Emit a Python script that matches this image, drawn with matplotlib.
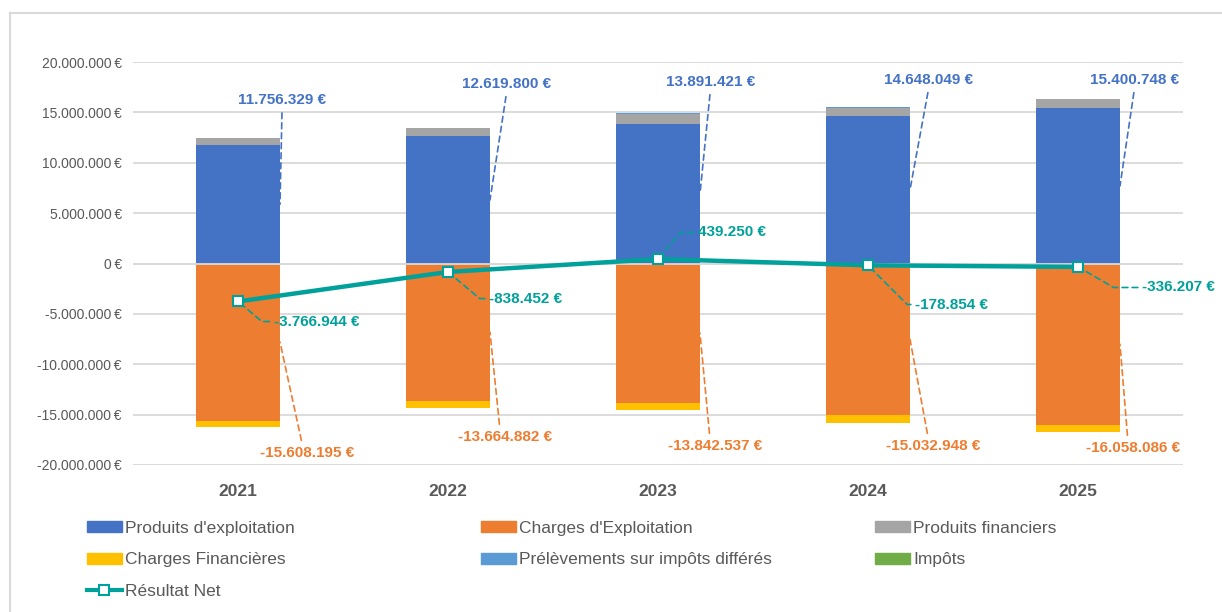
import numpy as np
import matplotlib
matplotlib.use("Agg")
import matplotlib.pyplot as plt
from matplotlib.lines import Line2D
from matplotlib.patches import Patch

# données (en euros)
years = ["2021", "2022", "2023", "2024", "2025"]
produits_expl = [11756329, 12619800, 13891421, 14648049, 15400748]
produits_fin = [690000, 780000, 980000, 810000, 890000]
prelevements = [50000, 50000, 50000, 50000, 50000]
charges_expl = [-15608195, -13664882, -13842537, -15032948, -16058086]
charges_fin = [-630000, -690000, -660000, -760000, -660000]
impots = [-30000, -30000, -30000, -30000, -30000]
resultat_net = [-3766944, -838452, 439250, -178854, -336207]

# position des étiquettes (décalage x en catégories, y en euros)
lbl_prod_dx = [0.21, 0.28, 0.25, 0.29, 0.27]
lbl_prod_y = [16.2e6, 17.8e6, 18.0e6, 18.2e6, 18.2e6]
lbl_chg_dx = [0.33, 0.27, 0.27, 0.31, 0.26]
lbl_chg_y = [-18.8e6, -17.2e6, -18.1e6, -18.1e6, -18.3e6]
lbl_res_dx = [0.17, 0.195, 0.19, 0.224, 0.305]
lbl_res_y = [-5.76e6, -3.48e6, 3.08e6, -4.07e6, -2.38e6]
lbl_res_ang = [-40, -40, 50, -45, -30]

BLUE = "#4472C4"
ORANGE = "#ED7D31"
GRAY = "#A5A5A5"
YELLOW = "#FFC000"
LBLUE = "#5B9BD5"
GREEN = "#70AD47"
TEAL = "#00A19A"
TXT = "#595959"
GRID = "#D9D9D9"

plt.rcParams["font.family"] = ["Liberation Sans", "DejaVu Sans"]


def fmt(v):
    s = f"{abs(int(round(v))):,}".replace(",", ".")
    return ("-" if v < 0 else "") + s + " €"


fig = plt.figure(figsize=(12.22, 6.12), dpi=100)
ax = fig.add_axes([133 / 1222, 1 - 465 / 612, (1183 - 133) / 1222, (465 - 62) / 612])

x = np.arange(len(years))
w = 0.4
p1 = np.array(produits_expl)
p2 = np.array(produits_fin)
p3 = np.array(prelevements)
n1 = np.array(charges_expl)
n2 = np.array(charges_fin)
n3 = np.array(impots)

ax.bar(x, p1, w, color=BLUE, zorder=2)
ax.bar(x, p2, w, bottom=p1, color=GRAY, zorder=2)
ax.bar(x, p3, w, bottom=p1 + p2, color=LBLUE, zorder=2)
ax.bar(x, n1, w, color=ORANGE, zorder=2)
ax.bar(x, n2, w, bottom=n1, color=YELLOW, zorder=2)
ax.bar(x, n3, w, bottom=n1 + n2, color=GREEN, zorder=2)
ax.axhline(0, color=GRID, lw=1.3, zorder=3)

ax.plot(x, resultat_net, color=TEAL, lw=3.2, zorder=4, marker="s", ms=7,
        mfc="white", mec=TEAL, mew=1.5)

dash = (0, (3.5, 2.5))
for i in range(len(years)):
    # produits d'exploitation
    ax.annotate(fmt(produits_expl[i]), xy=(x[i] + w / 2, produits_expl[i] / 2),
                xytext=(x[i] + lbl_prod_dx[i], lbl_prod_y[i]),
                ha="center", va="center", color=BLUE, fontsize=11, fontweight="bold",
                arrowprops=dict(arrowstyle="-", color=BLUE, lw=1.2, linestyle=dash,
                                relpos=(0.5, 0), shrinkA=2, shrinkB=0), zorder=5)
    # charges d'exploitation
    ax.annotate(fmt(charges_expl[i]), xy=(x[i] + w / 2, charges_expl[i] / 2),
                xytext=(x[i] + lbl_chg_dx[i], lbl_chg_y[i]),
                ha="center", va="center", color=ORANGE, fontsize=11, fontweight="bold",
                arrowprops=dict(arrowstyle="-", color=ORANGE, lw=1.2, linestyle=dash,
                                relpos=(0.45, 1), shrinkA=2, shrinkB=0), zorder=5)
    # résultat net
    ax.annotate(fmt(resultat_net[i]), xy=(x[i], resultat_net[i]),
                xytext=(x[i] + lbl_res_dx[i], lbl_res_y[i]),
                ha="left", va="center", color=TEAL, fontsize=11, fontweight="bold",
                arrowprops=dict(arrowstyle="-", color=TEAL, lw=1.2, linestyle=dash,
                                relpos=(0, 0.5), shrinkA=1, shrinkB=5,
                                connectionstyle=f"angle,angleA=0,angleB={lbl_res_ang[i]},rad=0"),
                zorder=5)

ax.set_xlim(-0.5, len(years) - 0.5)
ax.set_ylim(-20e6, 20e6)
yt = np.arange(-20e6, 20e6 + 1, 5e6)
ax.set_yticks(yt)
ax.set_yticklabels([("-" if v < 0 else "") + f"{abs(int(v)):,}".replace(",", ".") + "\u2009€"
                    for v in yt])
ax.set_xticks(x)
ax.set_xticklabels(years, fontsize=12.5, fontweight="bold", color=TXT)
ax.tick_params(axis="y", length=0, labelsize=10, labelcolor=TXT, pad=8)
ax.tick_params(axis="x", length=0, pad=14)
ax.grid(axis="y", color=GRID, lw=1.3, zorder=0)
ax.set_axisbelow(True)
for s in ax.spines.values():
    s.set_visible(False)

# cadre du graphique
fig.add_artist(Line2D([10 / 1222, 10 / 1222], [0, 1 - 13 / 612], color=GRID, lw=1.5))
fig.add_artist(Line2D([10 / 1222, 1], [1 - 13 / 612, 1 - 13 / 612], color=GRID, lw=1.5))

# légende, trois colonnes placées à la main
legfont = dict(family=["Liberation Sans", "DejaVu Sans"], size=12.5)
cols = [
    [Patch(color=BLUE, label="Produits d'exploitation"),
     Patch(color=YELLOW, label="Charges Financières"),
     Line2D([], [], color=TEAL, lw=3, marker="s", ms=7, mfc="white", mec=TEAL,
            mew=1.5, label="Résultat Net")],
    [Patch(color=ORANGE, label="Charges d'Exploitation"),
     Patch(color=LBLUE, label="Prélèvements sur impôts différés")],
    [Patch(color=GRAY, label="Produits financiers"),
     Patch(color=GREEN, label="Impôts")],
]
xs = [87, 481, 875]
for hx, hs in zip(xs, cols):
    leg = fig.legend(handles=hs, loc="upper left", bbox_to_anchor=(hx / 1222, 1 - 521 / 612),
                     frameon=False, prop=legfont, labelcolor=TXT, handlelength=2.0,
                     handleheight=0.6, handletextpad=0.2, labelspacing=0.95,
                     borderpad=0, borderaxespad=0)

fig.savefig("out.png", dpi=100, facecolor="white")
